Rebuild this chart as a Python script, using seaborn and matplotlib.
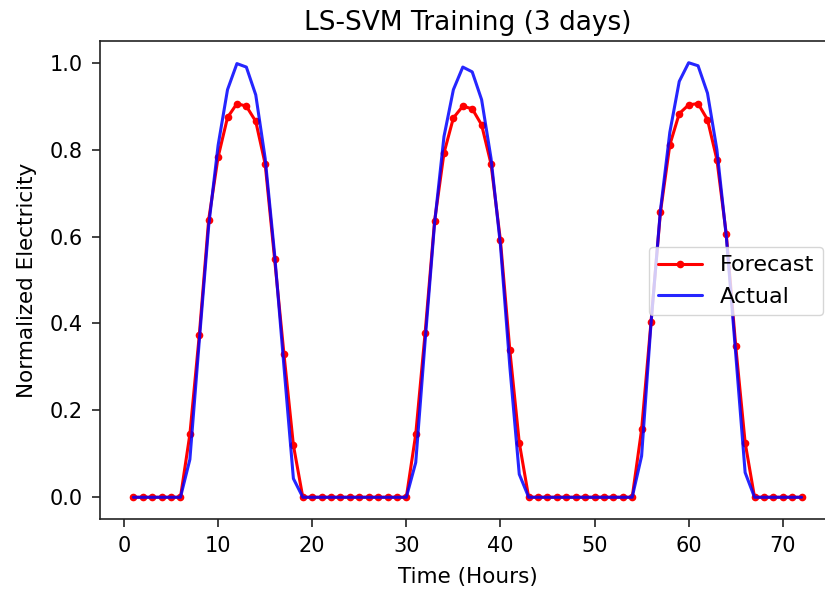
import numpy as np
import pandas as pd
import matplotlib
matplotlib.use("Agg")
import matplotlib.pyplot as plt
import seaborn as sns

# ======= DATA =======
hours = list(range(1, 73))

forecast = [
    0, 0, 0, 0, 0, 0, 0.145, 0.373, 0.639, 0.783, 0.874, 0.906,
    0.900, 0.865, 0.767, 0.549, 0.329, 0.120, 0, 0, 0, 0, 0, 0,
    0, 0, 0, 0, 0, 0, 0.145, 0.379, 0.635, 0.792, 0.873, 0.900,
    0.894, 0.857, 0.767, 0.591, 0.338, 0.126, 0, 0, 0, 0, 0, 0,
    0, 0, 0, 0, 0, 0, 0.156, 0.403, 0.656, 0.811, 0.883, 0.903,
    0.906, 0.869, 0.777, 0.605, 0.348, 0.126, 0, 0, 0, 0, 0, 0,
]

actual = [
    0, 0, 0, 0, 0, 0, 0.087, 0.360, 0.625, 0.810, 0.938, 0.998,
    0.990, 0.926, 0.780, 0.560, 0.300, 0.043, 0, 0, 0, 0, 0, 0,
    0, 0, 0, 0, 0, 0, 0.080, 0.360, 0.630, 0.830, 0.938, 0.990,
    0.979, 0.915, 0.780, 0.580, 0.300, 0.053, 0, 0, 0, 0, 0, 0,
    0, 0, 0, 0, 0, 0, 0.095, 0.400, 0.660, 0.840, 0.957, 1.000,
    0.993, 0.930, 0.800, 0.600, 0.330, 0.057, 0, 0, 0, 0, 0, 0,
]
# =============================================

df = pd.DataFrame({"hour": hours, "Forecast": forecast, "Actual": actual})

sns.set_style("ticks")
plt.rcParams["font.family"] = ["DejaVu Sans"]
plt.rcParams["text.color"] = "black"
plt.rcParams["axes.labelcolor"] = "black"
plt.rcParams["xtick.color"] = "black"
plt.rcParams["ytick.color"] = "black"

fig = plt.figure(figsize=(8.25, 5.92), dpi=100)
ax = fig.add_axes([100 / 825, 73 / 592, 735 / 825, 478 / 592])

sns.lineplot(data=df, x="hour", y="Forecast", ax=ax, color="red",
             marker=".", markersize=11, markeredgewidth=0, linewidth=2.2,
             label="Forecast")
sns.lineplot(data=df, x="hour", y="Actual", ax=ax, color="blue",
             linewidth=2.2, alpha=0.85, label="Actual")

ax.set_xlim(-2.55, 75.55)
ax.set_ylim(-0.05, 1.05)
ax.set_xticks([0, 10, 20, 30, 40, 50, 60, 70])
ax.set_yticks([0.0, 0.2, 0.4, 0.6, 0.8, 1.0])
ax.tick_params(labelsize=15, length=6, width=1.2, color="#222222", pad=6.5)
for s in ax.spines.values():
    s.set_linewidth(1.2)
    s.set_color("#222222")

ax.set_xlabel("Time (Hours)", fontsize=15.5, labelpad=8)
ax.set_ylabel("Normalized Electricity", fontsize=15.5, labelpad=9)
ax.set_title("LS-SVM Training (3 days)", fontsize=19, pad=8)

ax.legend(loc="center right", bbox_to_anchor=(823 / 825, 1 - 281 / 592),
          bbox_transform=fig.transFigure, borderaxespad=0, fontsize=16,
          handlelength=2.0, frameon=True)

fig.savefig("out.png", dpi=100)
